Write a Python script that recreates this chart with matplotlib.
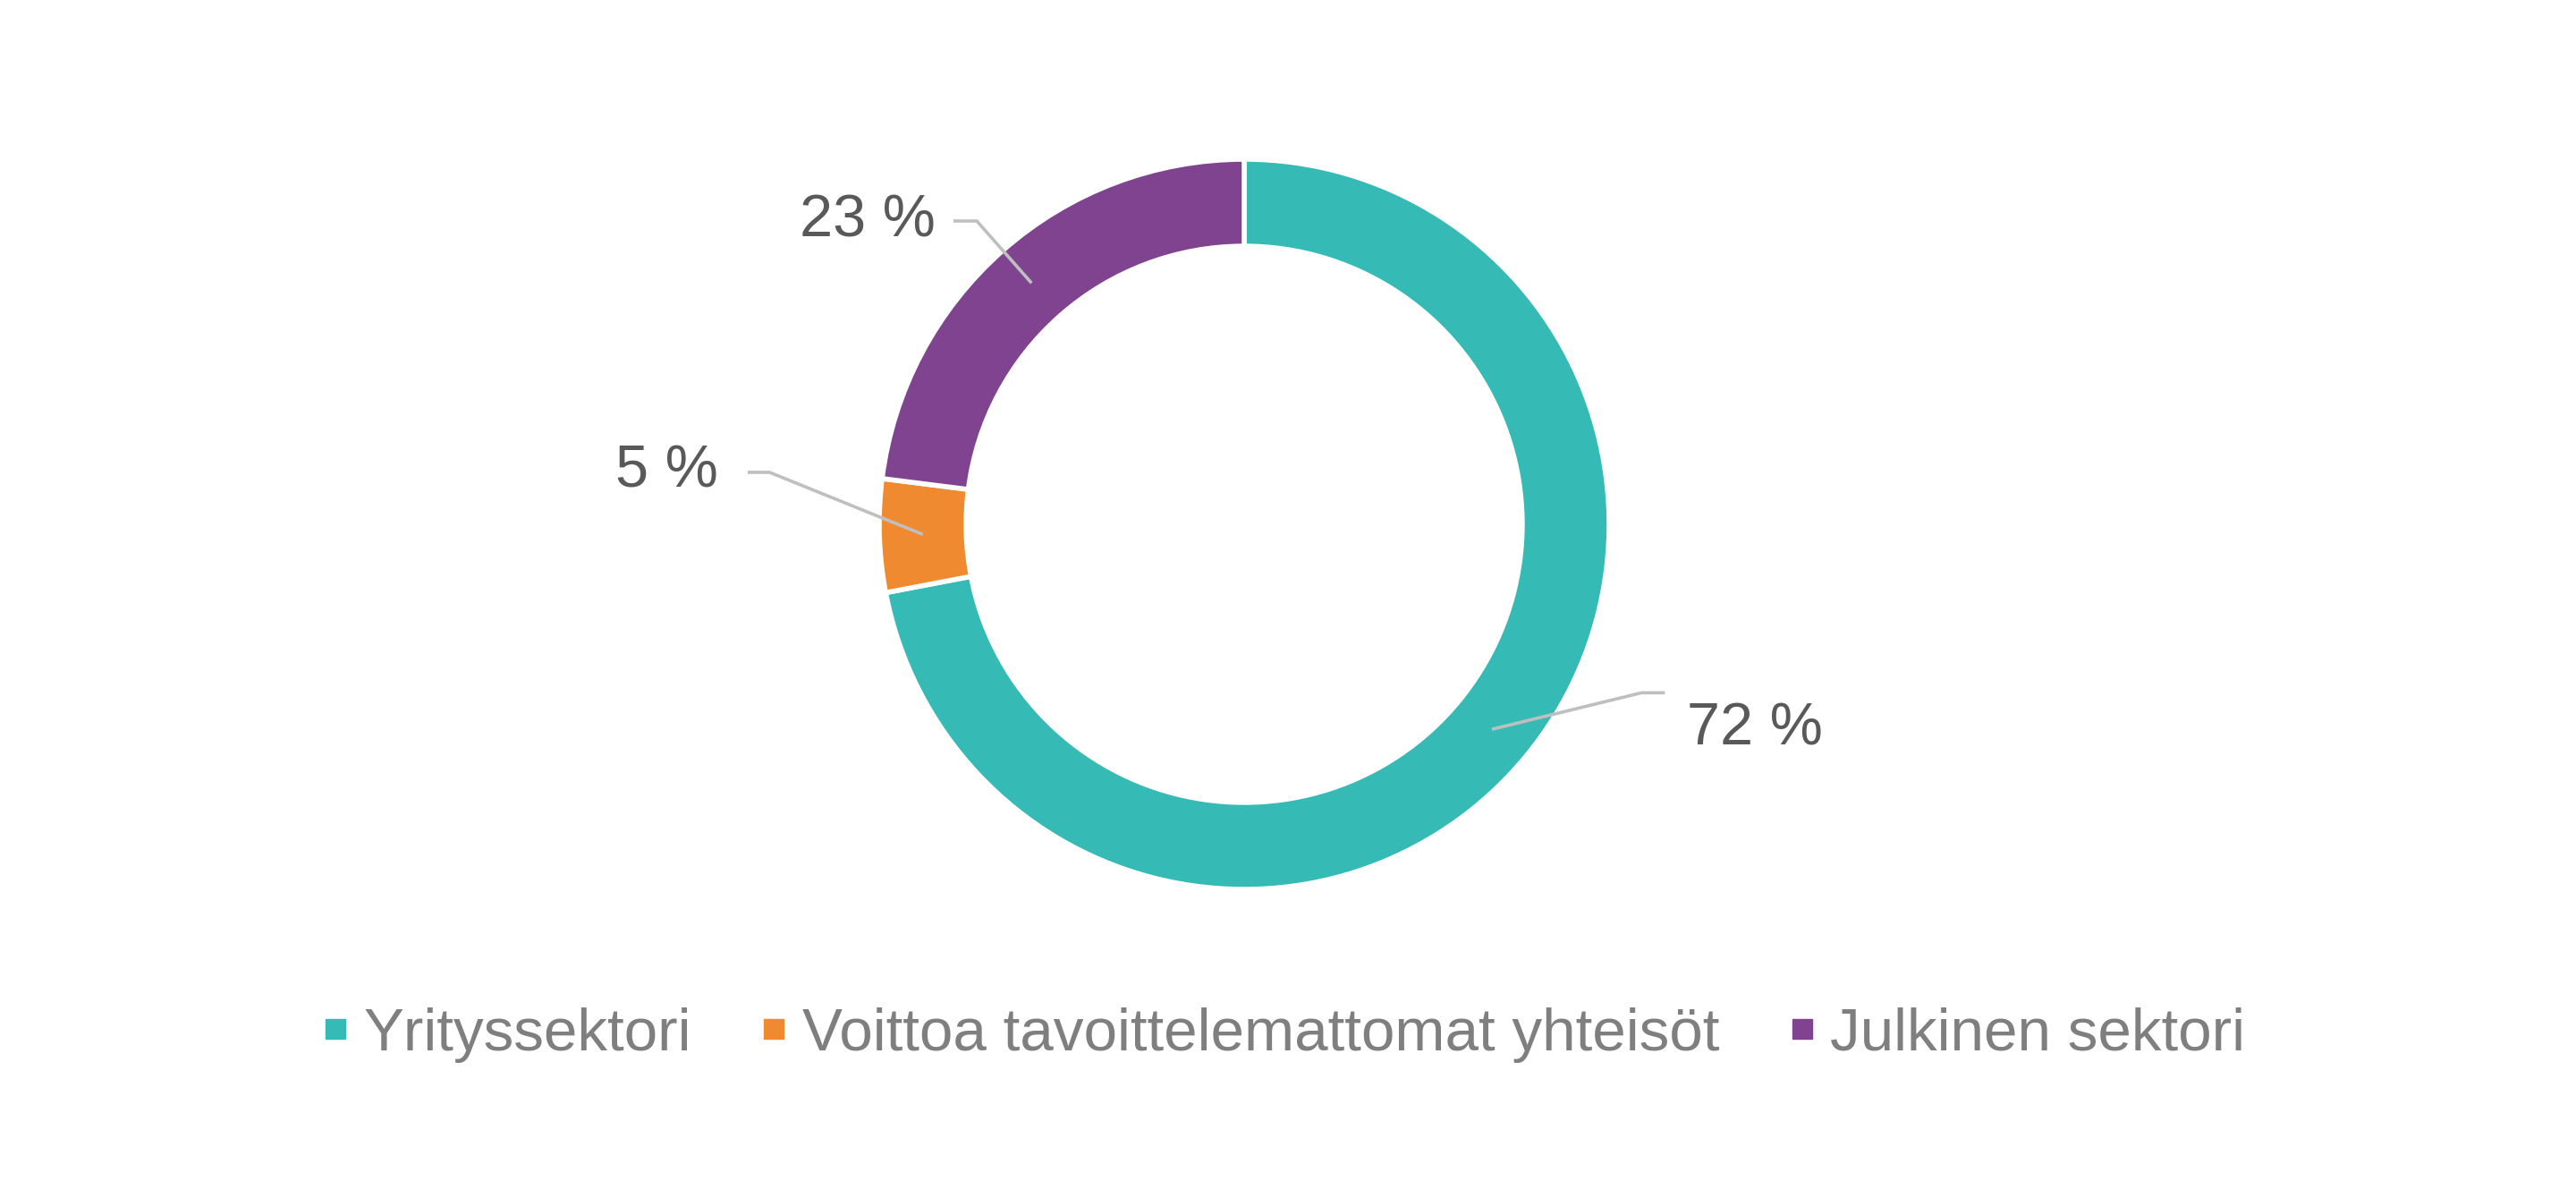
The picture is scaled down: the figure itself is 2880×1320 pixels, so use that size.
import matplotlib.pyplot as plt
from matplotlib.lines import Line2D
import numpy as np

plt.rcParams['font.family'] = ['Liberation Sans', 'DejaVu Sans']

categories = ['Yrityssektori', 'Voittoa tavoittelemattomat yhteisöt', 'Julkinen sektori']
shares = [72, 5, 23]
labels = ['72 %', '5 %', '23 %']
colors = ['#35BAB6', '#F08A31', '#80438F']

# leader line layout per label: elbow offset from anchor, horizontal tail, text gap
elbow_off = [(0.41, 0.10), (-0.42, 0.17), (-0.15, 0.17)]
tail = [0.064, -0.06, -0.064]
text_gap = [0.06, -0.08, -0.05]

ring = 0.238

fig = plt.figure(figsize=(28.8, 13.2), dpi=100)
ax = fig.add_axes([0, 0, 1, 1])

wedges, _ = ax.pie(shares, colors=colors, startangle=90, counterclock=False,
                   radius=1.0,
                   wedgeprops=dict(width=ring, edgecolor='white', linewidth=4))

r_mid = 1.0 - ring / 2
for i, w in enumerate(wedges):
    ang = np.deg2rad((w.theta1 + w.theta2) / 2)
    ax0, ay0 = r_mid * np.cos(ang), r_mid * np.sin(ang)
    ex, ey = ax0 + elbow_off[i][0], ay0 + elbow_off[i][1]
    tx = ex + tail[i]
    ax.plot([ax0, ex, tx], [ay0, ey, ey], color='#BFBFBF', lw=2.6,
            solid_capstyle='butt', zorder=3)
    if tail[i] > 0:
        ax.text(tx + text_gap[i], ay0, labels[i], ha='left', va='center',
                fontsize=48, color='#595959')
    else:
        ax.text(tx + text_gap[i], ey, labels[i], ha='right', va='center',
                fontsize=48, color='#595959')

ax.set_xlim(-1391 / 408, (2880 - 1391) / 408)
ax.set_ylim(-734 / 408, 586 / 408)
ax.set_aspect('auto')
ax.axis('off')

handles = [Line2D([0], [0], marker='s', linestyle='none', markersize=16,
                  markerfacecolor=c, markeredgecolor=c) for c in colors]
fig.legend(handles, categories, loc='center', bbox_to_anchor=(0.498, 163 / 1320),
           ncol=3, frameon=False, fontsize=48.5, labelcolor='#7F7F7F',
           handlelength=0.5, handletextpad=0.22, columnspacing=1.12)

fig.savefig('out.png', dpi=100, facecolor='white')
